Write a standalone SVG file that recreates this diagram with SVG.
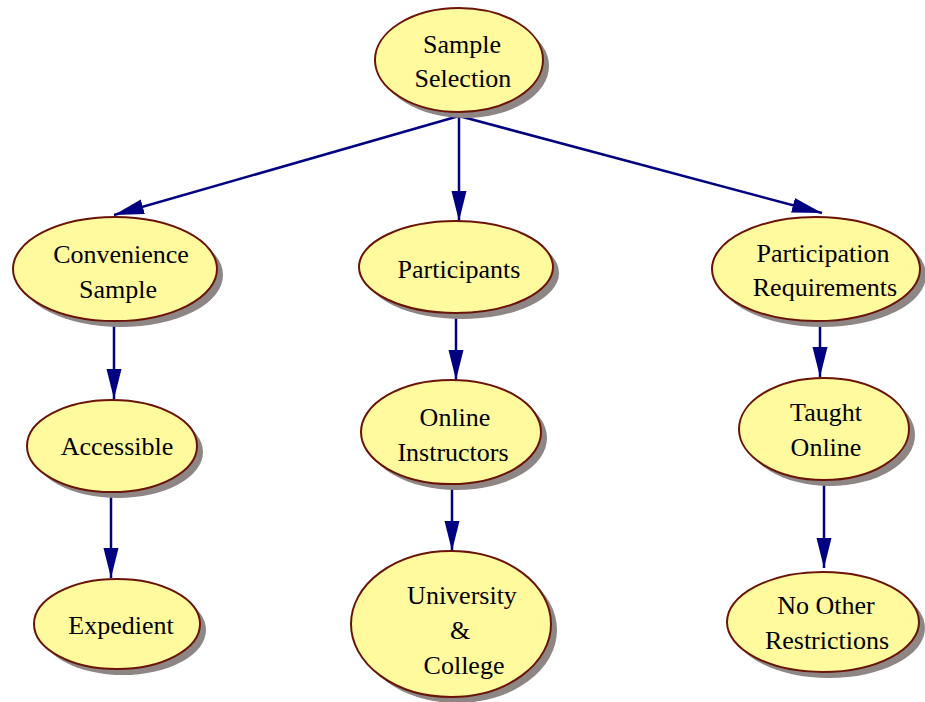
<svg xmlns="http://www.w3.org/2000/svg" width="925" height="702" viewBox="0 0 925 702">
  <style>
    .shadow { fill: #8e8585; }
    .body { fill: #fffa9e; stroke: #6a1408; stroke-width: 2; }
    .label { font-family: 'Liberation Serif', 'Times New Roman', serif; font-size: 26px; fill: #000; text-anchor: middle; }
    .edge { stroke: #000080; stroke-width: 2.5; fill: none; marker-end: url(#arrow); }
  </style>
  <defs>
    <marker id="arrow" markerUnits="userSpaceOnUse" markerWidth="32" markerHeight="16" refX="30" refY="7.5" orient="auto">
      <path d="M0,0 L30,7.5 L0,15 z" fill="#000080"/>
    </marker>
  </defs>
  <rect width="925" height="702" fill="#fff"/>

  <g id="connectors">
    <line class="edge" x1="459" y1="116" x2="114" y2="215"/>
    <line class="edge" x1="459" y1="116" x2="459" y2="221"/>
    <line class="edge" x1="459" y1="116" x2="822" y2="213"/>
    <line class="edge" x1="114" y1="326" x2="114" y2="399"/>
    <line class="edge" x1="111" y1="496" x2="111" y2="578"/>
    <line class="edge" x1="456" y1="318" x2="456" y2="380"/>
    <line class="edge" x1="452" y1="489" x2="452" y2="551"/>
    <line class="edge" x1="820" y1="325" x2="820" y2="377"/>
    <line class="edge" x1="824" y1="484" x2="824" y2="568"/>
  </g>

  <g id="sample-selection">
    <ellipse class="shadow" cx="465" cy="66" rx="84" ry="52"/>
    <ellipse class="body" cx="459" cy="60" rx="84" ry="52"/>
    <text class="label" x="462" y="53">Sample</text>
    <text class="label" x="463" y="87">Selection</text>
  </g>

  <g id="convenience-sample">
    <ellipse class="shadow" cx="121" cy="275" rx="102" ry="52"/>
    <ellipse class="body" cx="115" cy="269" rx="102" ry="52"/>
    <text class="label" x="121" y="263">Convenience</text>
    <text class="label" x="118" y="298">Sample</text>
  </g>

  <g id="participants">
    <ellipse class="shadow" cx="462" cy="273" rx="97" ry="46"/>
    <ellipse class="body" cx="456" cy="267" rx="97" ry="46"/>
    <text class="label" x="459" y="278">Participants</text>
  </g>

  <g id="participation-requirements">
    <ellipse class="shadow" cx="822" cy="275" rx="104" ry="52"/>
    <ellipse class="body" cx="816" cy="269" rx="104" ry="52"/>
    <text class="label" x="823" y="262">Participation</text>
    <text class="label" x="825" y="296">Requirements</text>
  </g>

  <g id="accessible">
    <ellipse class="shadow" cx="118" cy="452" rx="85" ry="46"/>
    <ellipse class="body" cx="112" cy="446" rx="85" ry="46"/>
    <text class="label" x="117" y="455">Accessible</text>
  </g>

  <g id="online-instructors">
    <ellipse class="shadow" cx="457" cy="438" rx="90" ry="52"/>
    <ellipse class="body" cx="451" cy="432" rx="90" ry="52"/>
    <text class="label" x="455" y="426">Online</text>
    <text class="label" x="453" y="461">Instructors</text>
  </g>

  <g id="taught-online">
    <ellipse class="shadow" cx="830" cy="435" rx="85" ry="51"/>
    <ellipse class="body" cx="824" cy="429" rx="85" ry="51"/>
    <text class="label" x="826" y="421">Taught</text>
    <text class="label" x="826" y="456">Online</text>
  </g>

  <g id="expedient">
    <ellipse class="shadow" cx="123" cy="630" rx="83" ry="45"/>
    <ellipse class="body" cx="117" cy="624" rx="83" ry="45"/>
    <text class="label" x="121" y="634">Expedient</text>
  </g>

  <g id="university-college">
    <ellipse class="shadow" cx="457" cy="630" rx="100" ry="73"/>
    <ellipse class="body" cx="451" cy="624" rx="100" ry="73"/>
    <text class="label" x="462" y="604">University</text>
    <text class="label" x="460" y="639">&amp;</text>
    <text class="label" x="464" y="674">College</text>
  </g>

  <g id="no-other-restrictions">
    <ellipse class="shadow" cx="829" cy="628" rx="96" ry="50"/>
    <ellipse class="body" cx="823" cy="622" rx="96" ry="50"/>
    <text class="label" x="826" y="614">No Other</text>
    <text class="label" x="827" y="649">Restrictions</text>
  </g>
</svg>
